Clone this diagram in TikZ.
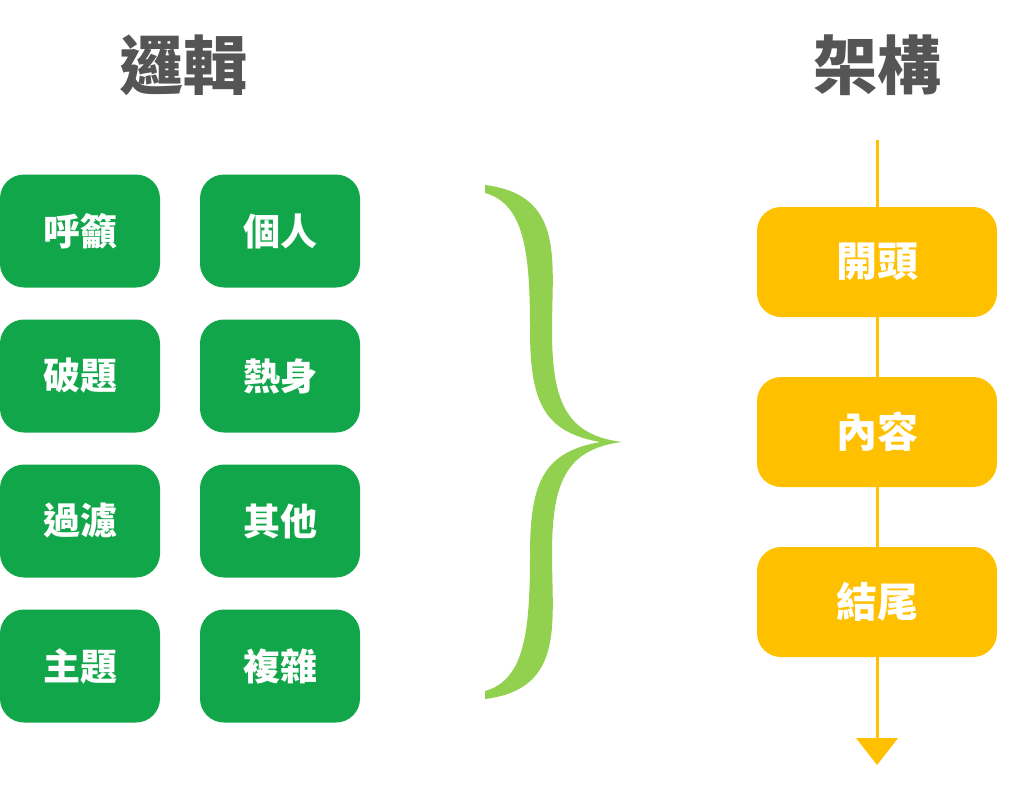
\documentclass[tikz,border=0pt]{standalone}
\usepackage{fontspec}
\newfontfamily\cjk{Noto Sans CJK TC}
\definecolor{gbox}{HTML}{12A64A}
\definecolor{lg}{HTML}{92D050}
\definecolor{yb}{HTML}{FFC000}
\definecolor{tg}{HTML}{555555}
\begin{document}
\begin{tikzpicture}[x=1pt,y=-1pt,
 gb/.style={fill=gbox,rounded corners=24pt,minimum width=160pt,minimum height=113pt,text=white,font=\cjk\bfseries\fontsize{37}{37}\selectfont,inner sep=0pt},
 yw/.style={fill=yb,rounded corners=24pt,minimum width=240pt,minimum height=110pt,text=white,font=\cjk\bfseries\fontsize{41}{41}\selectfont,inner sep=0pt},
 tt/.style={text=tg,font=\cjk\bfseries\fontsize{64}{64}\selectfont}]
\useasboundingbox (0,0) rectangle (1024,788);
\node[tt] (t1) at (183,65) {邏輯};
\node[tt] (t2) at (877,65) {架構};
\node[gb] (a1) at (80,231) {呼籲};
\node[gb] (b1) at (280,231) {個人};
\node[gb] (a2) at (80,376) {破題};
\node[gb] (b2) at (280,376) {熱身};
\node[gb] (a3) at (80,521) {過濾};
\node[gb] (b3) at (280,521) {其他};
\node[gb] (a4) at (80,666) {主題};
\node[gb] (b4) at (280,666) {複雜};
\fill[lg] (485,185) .. controls (565,195) and (552,260) .. (552,330)
 .. controls (552,400) and (565,435) .. (622,442)
 .. controls (565,449) and (552,484) .. (552,554)
 .. controls (552,624) and (565,689) .. (485,699)
 -- (485,691) .. controls (525,680) and (530,630) .. (530,554)
 .. controls (530,480) and (545,452) .. (600,442)
 .. controls (545,432) and (530,404) .. (530,330)
 .. controls (530,254) and (525,204) .. (485,193) -- cycle;
\coordinate (top) at (877,140);
\coordinate (bot) at (877,738);
\draw[yb,line width=3pt] (top) -- (bot);
\fill[yb] (856,738) -- (898,738) -- (877,765) -- cycle;
\node[yw] (c1) at (877,262) {開頭};
\node[yw] (c2) at (877,432) {內容};
\node[yw] (c3) at (877,602) {結尾};
\end{tikzpicture}
\end{document}
